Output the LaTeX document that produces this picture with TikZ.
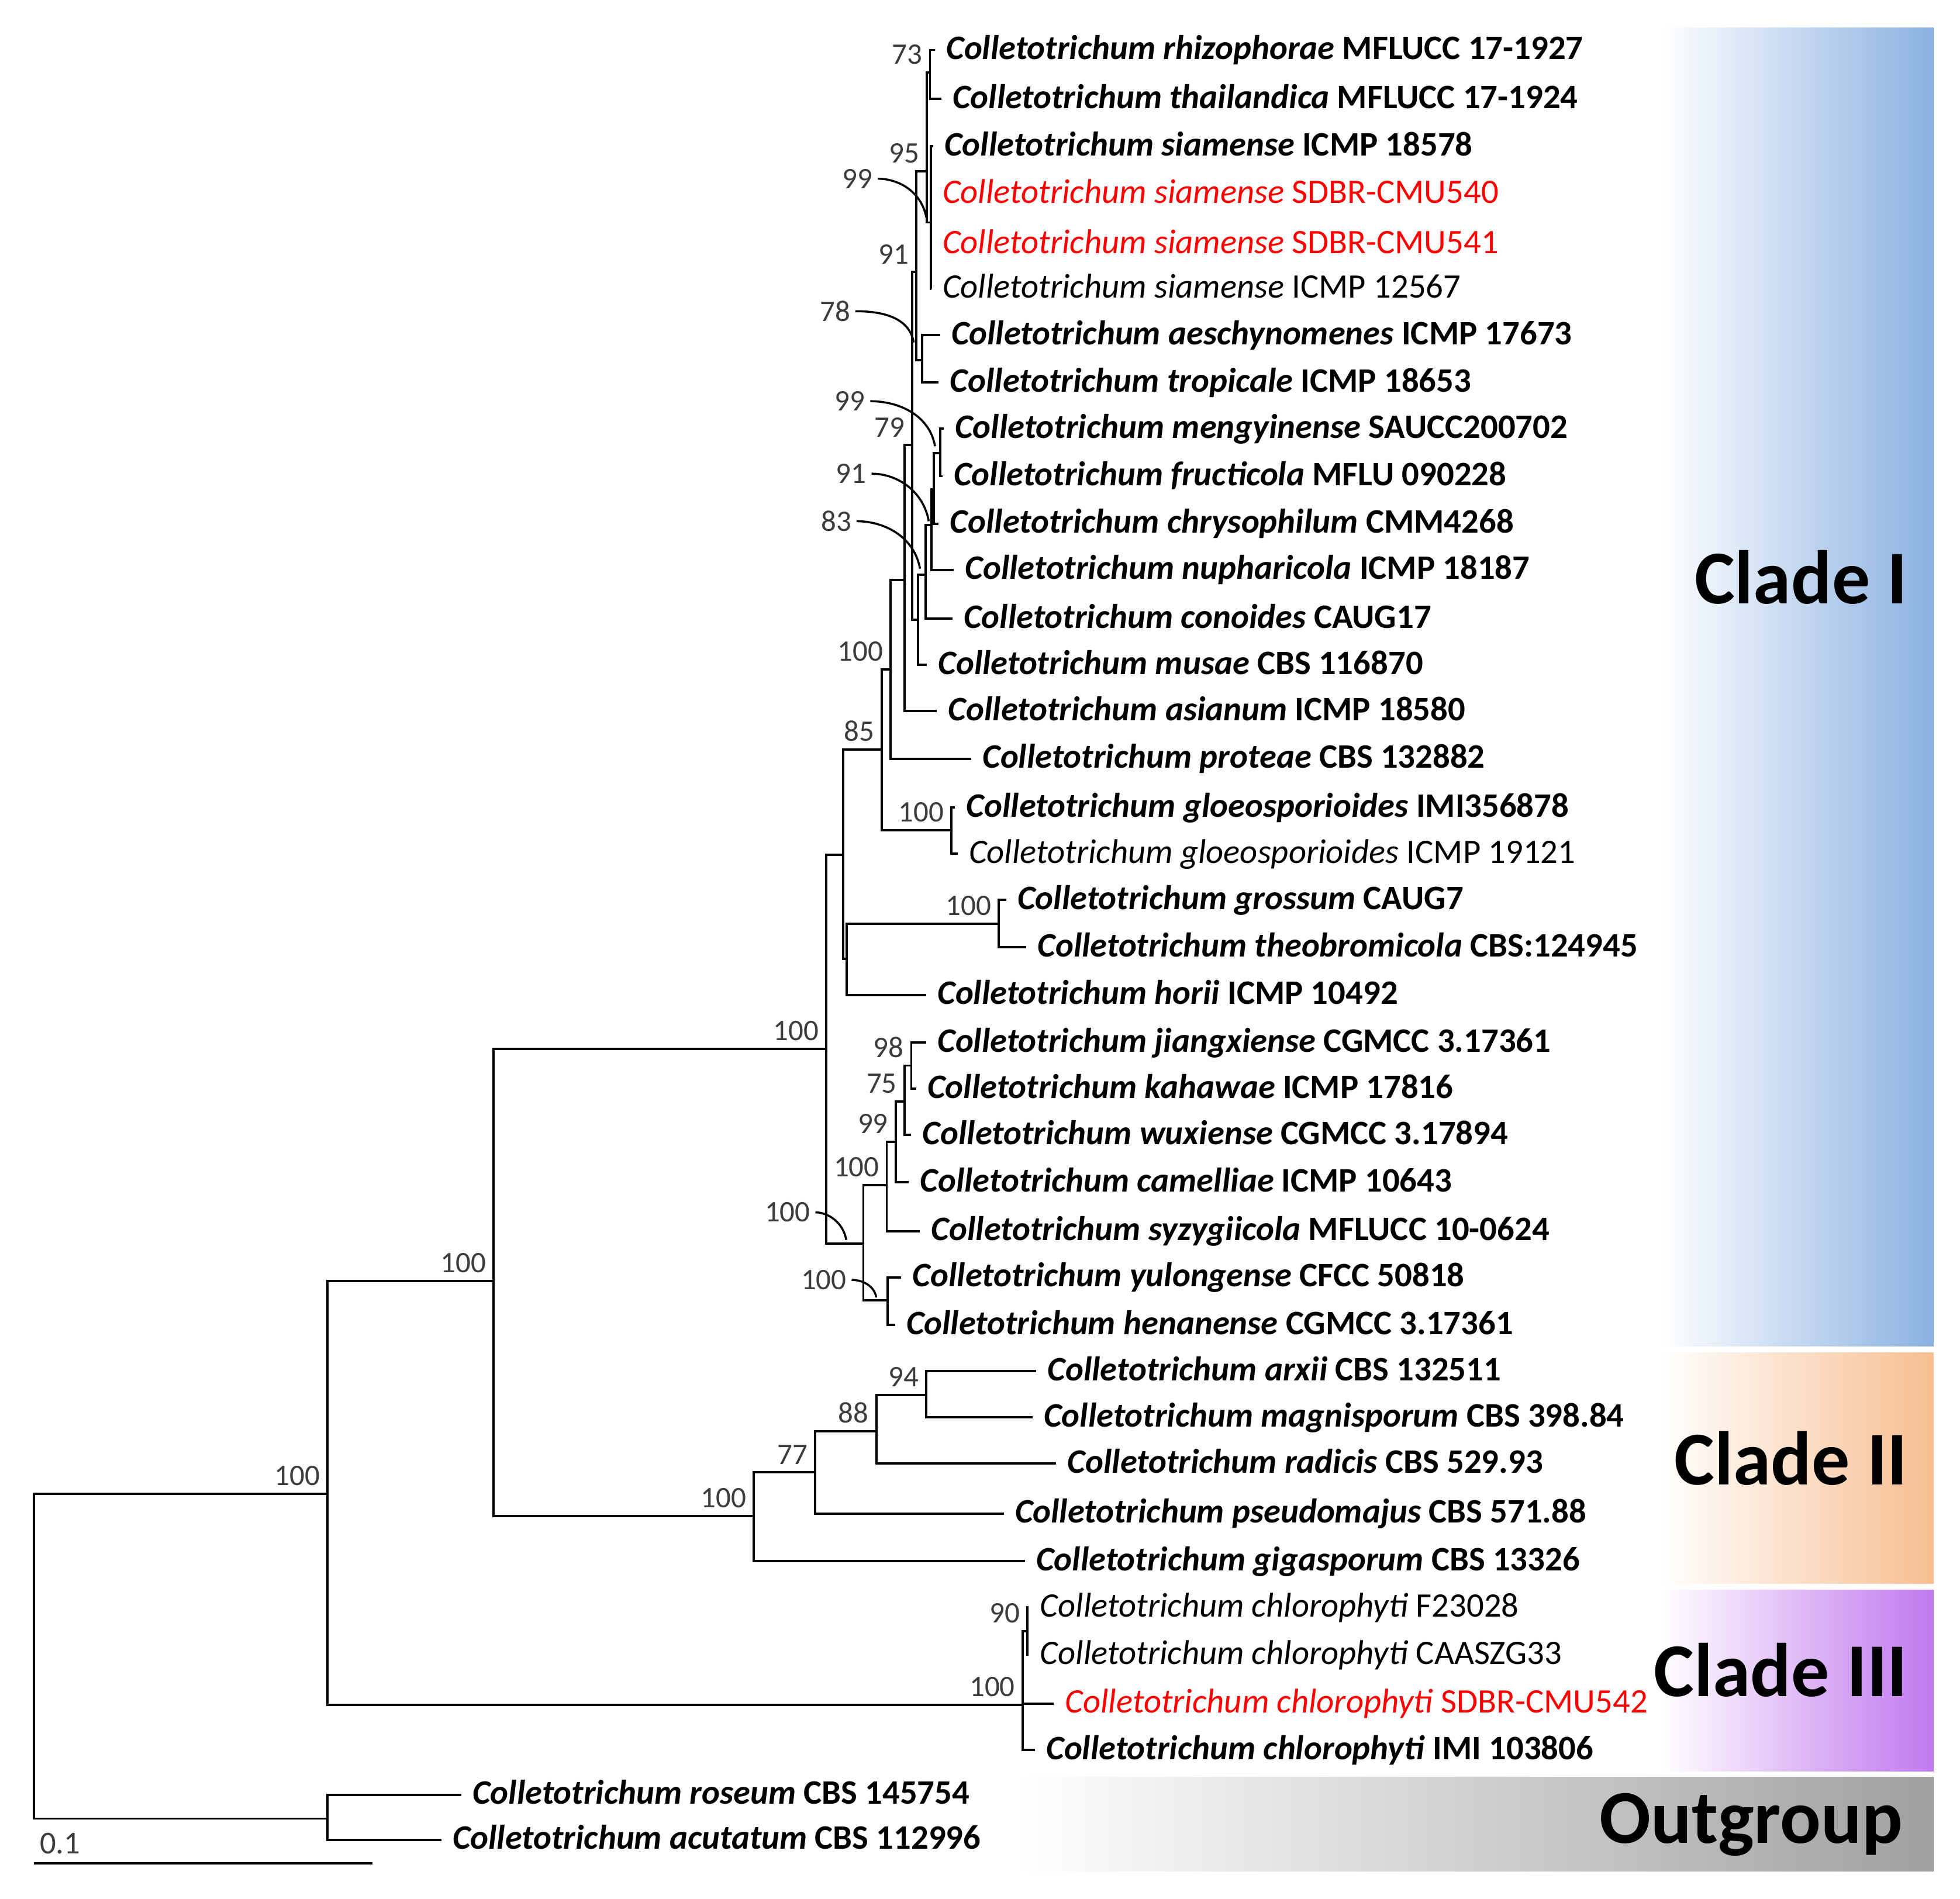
\documentclass[tikz,border=0pt]{standalone}
\usepackage{fontspec}
\setmainfont{Carlito}
\usetikzlibrary{positioning}

\definecolor{cladeblue}{RGB}{138,177,225}
\definecolor{cladeorange}{RGB}{247,190,144}
\definecolor{cladepurple}{RGB}{192,120,238}
\definecolor{outgray}{RGB}{160,160,160}
\definecolor{bootgray}{RGB}{60,60,60}

% bold and plain taxon labels
\newcommand{\taxb}[2]{\textbf{\textit{Colletotrichum #1}} \textbf{#2}}
\newcommand{\taxn}[2]{\textit{Colletotrichum #1} #2}

\begin{document}
\begin{tikzpicture}[x=0.02138cm,y=-0.02138cm,line width=1.1pt,
  leaf node/.style={anchor=west,inner xsep=5pt,inner ysep=0pt,font=\fontsize{16.7}{19}\selectfont,text height=0.92em,text depth=0em},
  boot node/.style={anchor=south east,inner sep=0pt,xshift=-0.11cm,yshift=0.12cm,font=\fontsize{14.5}{16}\selectfont,text=bootgray},
  lead node/.style={inner sep=0pt,font=\fontsize{14.5}{16}\selectfont,text=bootgray},
  clade node/.style={anchor=east,inner sep=0pt,font=\fontsize{37}{42}\selectfont\bfseries}]

\useasboundingbox (0,0) rectangle (1568,1519);

% clade boxes
\shade[left color=white,right color=cladeblue] (1328,22) rectangle (1547,1077);
\shade[left color=white,right color=cladeorange] (1328,1082) rectangle (1547,1267);
\shade[left color=white,right color=cladepurple] (1328,1272) rectangle (1547,1417);
\shade[left color=white,right color=outgray] (812,1422) rectangle (1547,1497);

\node[clade node] (cI) at (1527,462) {Clade I};
\node[clade node] (cII) at (1527,1167) {Clade II};
\node[clade node] (cIII) at (1527,1336) {Clade III};
\node[clade node] (cO) at (1523,1460) {Outgroup};

% internal nodes
\coordinate (root) at (27,1325);
\coordinate (ingrp) at (262,1195);
\coordinate (outgrp) at (262,1455);
\coordinate (nA) at (395,1025);
\coordinate (c2) at (603,1213);
\coordinate (n77) at (652,1178);
\coordinate (n88) at (701,1145);
\coordinate (n94) at (741,1116);
\coordinate (c3) at (818,1364);
\coordinate (n90) at (822,1305);
\coordinate (c1) at (661,839);
\coordinate (na) at (674.4,683.7);
\coordinate (ng) at (677.5,767.1);
\coordinate (ngross) at (799,739);
\coordinate (n85) at (705.6,599.5);
\coordinate (ngloeo) at (761,664.2);
\coordinate (n100a) at (712.6,535.6);
\coordinate (n722) at (723.5,464);
\coordinate (n79) at (729.7,356);
\coordinate (n91) at (733,217.5);
\coordinate (n95) at (741.5,137);
\coordinate (n73) at (744,58);
\coordinate (n99) at (744.5,178);
\coordinate (n78) at (737.5,288);
\coordinate (nmu) at (734.4,495.8);
\coordinate (nr) at (740.6,460);
\coordinate (nq) at (745.3,420);
\coordinate (np) at (746.9,391.4);
\coordinate (nmf) at (752.3,362.5);
\coordinate (nb) at (690.7,994.8);
\coordinate (nu) at (709.4,948.3);
\coordinate (n99c) at (716.5,913.4);
\coordinate (n75) at (723.5,881.1);
\coordinate (n98) at (729,852.5);
\coordinate (nyh) at (710.2,1040.5);

% leaves
\node[leaf node] (rhiz) at (748,40) {\taxb{rhizophorae}{MFLUCC 17-1927}};
\node[leaf node] (thai) at (753,79) {\taxb{thailandica}{MFLUCC 17-1924}};
\node[leaf node] (siamA) at (746.5,117) {\taxb{siamense}{ICMP 18578}};
\node[leaf node,text=red] (siamB) at (745,155) {\taxn{siamense}{SDBR-CMU540}};
\node[leaf node,text=red] (siamC) at (745,195) {\taxn{siamense}{SDBR-CMU541}};
\node[leaf node] (siamD) at (745,231) {\taxn{siamense}{ICMP 12567}};
\node[leaf node] (aesch) at (752,268) {\taxb{aeschynomenes}{ICMP 17673}};
\node[leaf node] (trop) at (751,306) {\taxb{tropicale}{ICMP 18653}};
\node[leaf node] (meng) at (755,343) {\taxb{mengyinense}{SAUCC200702}};
\node[leaf node] (fruc) at (754,381) {\taxb{fructicola}{MFLU 090228}};
\node[leaf node] (chry) at (751,419) {\taxb{chrysophilum}{CMM4268}};
\node[leaf node] (nuph) at (763,456) {\taxb{nupharicola}{ICMP 18187}};
\node[leaf node] (cono) at (762,495) {\taxb{conoides}{CAUG17}};
\node[leaf node] (musa) at (741.5,532) {\taxb{musae}{CBS 116870}};
\node[leaf node] (asia) at (749.5,569) {\taxb{asianum}{ICMP 18580}};
\node[leaf node] (prot) at (777,607) {\taxb{proteae}{CBS 132882}};
\node[leaf node] (gloA) at (764,646) {\taxb{gloeosporioides}{IMI356878}};
\node[leaf node] (gloB) at (766,683) {\taxn{gloeosporioides}{ICMP 19121}};
\node[leaf node] (gros) at (805,720) {\taxb{grossum}{CAUG7}};
\node[leaf node] (theo) at (821,758) {\taxb{theobromicola}{CBS:124945}};
\node[leaf node] (hori) at (741,796) {\taxb{horii}{ICMP 10492}};
\node[leaf node] (jian) at (741,834) {\taxb{jiangxiense}{CGMCC 3.17361}};
\node[leaf node] (kaha) at (733,871) {\taxb{kahawae}{ICMP 17816}};
\node[leaf node] (wuxi) at (729,908) {\taxb{wuxiense}{CGMCC 3.17894}};
\node[leaf node] (came) at (727,946) {\taxb{camelliae}{ICMP 10643}};
\node[leaf node] (syzy) at (736,985) {\taxb{syzygiicola}{MFLUCC 10-0624}};
\node[leaf node] (yulo) at (721,1022) {\taxb{yulongense}{CFCC 50818}};
\node[leaf node] (hena) at (716,1060) {\taxb{henanense}{CGMCC 3.17361}};
\node[leaf node] (arxi) at (829,1097) {\taxb{arxii}{CBS 132511}};
\node[leaf node] (magn) at (826,1134) {\taxb{magnisporum}{CBS 398.84}};
\node[leaf node] (radi) at (845,1171) {\taxb{radicis}{CBS 529.93}};
\node[leaf node] (pseu) at (803,1211) {\taxb{pseudomajus}{CBS 571.88}};
\node[leaf node] (giga) at (820,1249) {\taxb{gigasporum}{CBS 13326}};
\node[leaf node] (chlA) at (823,1286) {\taxn{chlorophyti}{F23028}};
\node[leaf node] (chlB) at (823,1324) {\taxn{chlorophyti}{CAASZG33}};
\node[leaf node,text=red] (chlC) at (843,1363) {\taxn{chlorophyti}{SDBR-CMU542}};
\node[leaf node] (chlD) at (828,1400) {\taxb{chlorophyti}{IMI 103806}};
\node[leaf node] (rose) at (369,1436) {\taxb{roseum}{CBS 145754}};
\node[leaf node] (acut) at (353,1472) {\taxb{acutatum}{CBS 112996}};

% branches
\path[every edge/.style={draw,to path={|- (\tikztotarget)}}]
  (root) edge (ingrp)
  (root) edge (outgrp)
  (outgrp) edge (rose)
  (outgrp) edge (acut)
  (ingrp) edge (nA)
  (ingrp) edge (c3)
  (c3) edge (n90)
  (c3) edge (chlC)
  (c3) edge (chlD)
  (n90) edge (chlA)
  (n90) edge (chlB)
  (nA) edge (c1)
  (nA) edge (c2)
  (c2) edge (n77)
  (c2) edge (giga)
  (n77) edge (n88)
  (n77) edge (pseu)
  (n88) edge (n94)
  (n88) edge (radi)
  (n94) edge (arxi)
  (n94) edge (magn)
  (c1) edge (na)
  (c1) edge (nb)
  (na) edge (n85)
  (na) edge (ng)
  (ng) edge (ngross)
  (ng) edge (hori)
  (ngross) edge (gros)
  (ngross) edge (theo)
  (n85) edge (n100a)
  (n85) edge (ngloeo)
  (ngloeo) edge (gloA)
  (ngloeo) edge (gloB)
  (n100a) edge (n722)
  (n100a) edge (prot)
  (n722) edge (n79)
  (n722) edge (asia)
  (n79) edge (n91)
  (n79) edge (nmu)
  (n91) edge (n95)
  (n91) edge (n78)
  (n95) edge (n73)
  (n95) edge (n99)
  (n73) edge (rhiz)
  (n73) edge (thai)
  (n99) edge (siamA)
  (n99) edge (siamB)
  (n99) edge (siamC)
  (n99) edge (siamD)
  (n78) edge (aesch)
  (n78) edge (trop)
  (nmu) edge (nr)
  (nmu) edge (musa)
  (nr) edge (nq)
  (nr) edge (cono)
  (nq) edge (np)
  (nq) edge (nuph)
  (np) edge (nmf)
  (np) edge (chry)
  (nmf) edge (meng)
  (nmf) edge (fruc)
  (nb) edge (nu)
  (nb) edge (nyh)
  (nu) edge (n99c)
  (nu) edge (syzy)
  (n99c) edge (n75)
  (n99c) edge (came)
  (n75) edge (n98)
  (n75) edge (wuxi)
  (n98) edge (jian)
  (n98) edge (kaha)
  (nyh) edge (yulo)
  (nyh) edge (hena);

% bootstrap values
\node[boot node] (bIn) at (ingrp) {100};
\node[boot node] (bA) at (nA) {100};
\node[boot node] (bC1) at (c1) {100};
\node[boot node] (bC2) at (c2) {100};
\node[boot node] (b77) at (n77) {77};
\node[boot node] (b88) at (n88) {88};
\node[boot node] (b94) at (n94) {94};
\node[boot node] (bC3) at (c3) {100};
\node[boot node] (b90) at (n90) {90};
\node[boot node] (b85) at (n85) {85};
\node[boot node] (b100a) at (n100a) {100};
\node[boot node] (b79) at (n79) {79};
\node[boot node] (b91) at (n91) {91};
\node[boot node] (b95) at (n95) {95};
\node[boot node] (b73) at (n73) {73};
\node[boot node] (bGlo) at (ngloeo) {100};
\node[boot node] (bGro) at (ngross) {100};
\node[boot node] (b98) at (n98) {98};
\node[boot node] (b75) at (n75) {75};
\node[boot node] (b99c) at (n99c) {99};
\node[boot node] (bU) at (nu) {100};

% values with leader lines
\node[lead node] (l99a) at (686,143) {99};
\node[lead node] (l78) at (668,249) {78};
\node[lead node] (l99b) at (680,321) {99};
\node[lead node] (l91) at (681,379) {91};
\node[lead node] (l83) at (669,417) {83};
\node[lead node] (l100a) at (630,970) {100};
\node[lead node] (l100b) at (659,1024) {100};
\coordinate (t99a) at (741,174);
\coordinate (t78) at (731,274);
\coordinate (t99b) at (748,357);
\coordinate (t91) at (743,417);
\coordinate (t83) at (736,455);
\coordinate (t100a) at (677,992);
\coordinate (t100b) at (701,1038);
\draw[line width=1pt,shorten <=2pt] (l99a.east) to[out=0,in=100] (t99a);
\draw[line width=1pt,shorten <=2pt] (l78.east) to[out=0,in=100] (t78);
\draw[line width=1pt,shorten <=2pt] (l99b.east) to[out=0,in=100] (t99b);
\draw[line width=1pt,shorten <=2pt] (l91.east) to[out=0,in=100] (t91);
\draw[line width=1pt,shorten <=2pt] (l83.east) to[out=0,in=100] (t83);
\draw[line width=1pt,shorten <=2pt] (l100a.east) to[out=0,in=100] (t100a);
\draw[line width=1pt,shorten <=2pt] (l100b.east) to[out=0,in=100] (t100b);

% scale bar
\coordinate (sbl) at (27,1491);
\coordinate (sbr) at (298,1491);
\draw (sbl) -- (sbr);
\node[anchor=south west,inner sep=0pt,font=\fontsize{15.5}{17}\selectfont,text=bootgray] (sbtxt) at (31,1484) {0.1};
\end{tikzpicture}
\end{document}
